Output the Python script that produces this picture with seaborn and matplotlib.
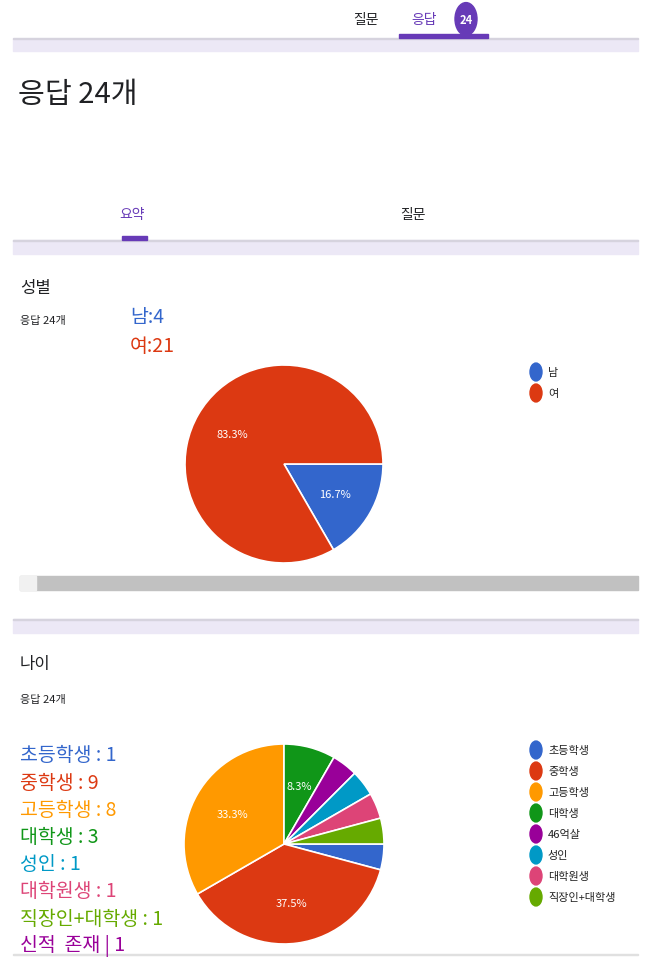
import matplotlib
matplotlib.use("Agg")
import matplotlib.pyplot as plt
import seaborn as sns
from matplotlib.patches import Rectangle, Circle

sns.set_theme(style="white")
plt.rcParams['font.family'] = ['Noto Sans CJK KR', 'DejaVu Sans']

gender_labels = ["남", "여"]
gender_values = [4, 20]
gender_notes = ["남:4", "여:21"]

age_labels = ["초등학생", "중학생", "고등학생", "대학생", "46억살", "성인", "대학원생", "직장인+대학생"]
age_values = [1, 9, 8, 2, 1, 1, 1, 1]
age_notes = ["초등학생 : 1", "중학생 : 9", "고등학생 : 8", "대학생 : 3", "성인 : 1",
             "대학원생 : 1", "직장인+대학생 : 1", "신적  존재 | 1"]
note_colors = ["#3366cc", "#dc3912", "#ff9900", "#109618", "#0099c6", "#dd4477", "#66aa00", "#990099"]

colors = ["#3366cc", "#dc3912", "#ff9900", "#109618", "#990099", "#0099c6", "#dd4477", "#66aa00"]

W, H = 650, 970
fig = plt.figure(figsize=(6.5, 9.7), dpi=100)
fig.patch.set_facecolor("white")

def fx(x): return x / W
def fy(y): return 1 - y / H

def rect(x0, y0, x1, y1, color):
    fig.patches.append(Rectangle((fx(x0), fy(y1)), fx(x1 - x0), (y1 - y0) / H,
                                 transform=fig.transFigure, color=color, zorder=0))

def text(x, y, s, size, color="#202124", **kw):
    fig.text(fx(x), fy(y), s, fontsize=size, color=color, va="center", **kw)

band = "#ece8f6"
rect(13, 40, 638, 52, band)
rect(13, 241, 638, 255, band)
rect(13, 620, 638, 634, band)
rect(13, 39, 638, 40, "#d6d3de")
rect(13, 241, 638, 242, "#d6d3de")
rect(13, 620, 638, 621, "#d6d3de")
rect(399, 35, 488, 39, "#673ab7")
rect(122, 237, 147, 241, "#673ab7")
rect(20, 577, 638, 591, "#c1c1c1")
rect(20, 577, 36, 591, "#f1f1f1")
rect(13, 955, 638, 956, "#e0e0e0")
fig.patches.append(Circle((fx(466), fy(20)), 11 / W, transform=fig.transFigure, color="#673ab7"))
fig.text(fx(466), fy(20), "24", fontsize=8, color="white", ha="center", va="center", weight="bold")

text(353, 20, "질문", 10)
text(411, 20, "응답", 10, color="#673ab7")
text(18, 95, "응답 24개", 21)
text(119, 215, "요약", 10, color="#673ab7")
text(400, 215, "질문", 10)
text(20, 289, "성별", 12)
text(20, 321, "응답 24개", 8)
text(20, 665, "나이", 12)
text(20, 700, "응답 24개", 8)

for i, (s, c) in enumerate(zip(gender_notes, ["#3366cc", "#dc3912"])):
    text(130, 318 + i * 28, s, 14, color=c)
for i, (s, c) in enumerate(zip(age_notes, note_colors)):
    text(20, 756 + i * 27.2, s, 14, color=c)

def pie(cx, cy, r, vals, pctmin):
    ax = fig.add_axes([fx(cx - r), fy(cy + r), 2 * r / W, 2 * r / H])
    wedges, _, autotexts = ax.pie(vals, colors=colors[:len(vals)], startangle=0, counterclock=False,
                                  radius=1, wedgeprops=dict(edgecolor="white", linewidth=1.2),
                                  autopct=lambda p: f"{p:.1f}%" if p > pctmin else "",
                                  pctdistance=0.6, textprops=dict(color="white", fontsize=8))
    ax.set_xlim(-1, 1); ax.set_ylim(-1, 1); ax.set_aspect("auto"); ax.axis("off")

pie(284, 465, 99, gender_values, 5)
pie(284, 845, 100, age_values, 5)

def legend(y0, labels):
    for i, s in enumerate(labels):
        y = y0 + i * 21
        fig.patches.append(Circle((fx(536), fy(y)), 6 / W, transform=fig.transFigure, color=colors[i]))
        text(548, y, s, 8, color="#222222")

legend(373, gender_labels)
legend(751, age_labels)

fig.savefig("out.png", dpi=100)
